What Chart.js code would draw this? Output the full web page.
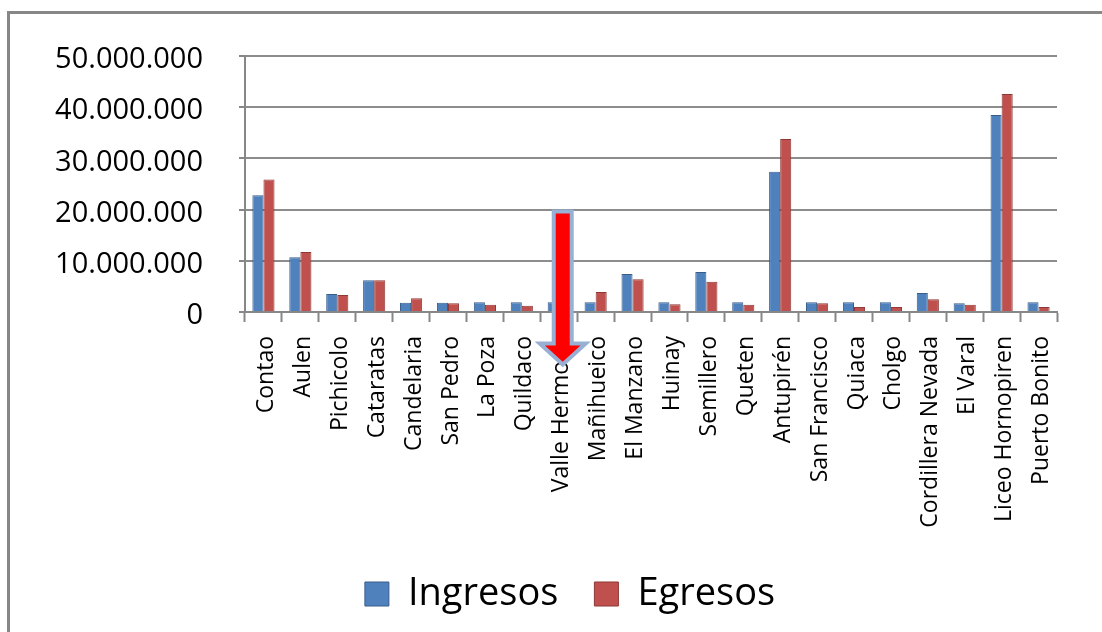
<!DOCTYPE html>
<html>
<head>
<meta charset="utf-8">
<script src="https://cdn.jsdelivr.net/npm/chart.js@4.4.0/dist/chart.umd.min.js"></script>
<style>
  html, body { margin: 0; padding: 0; background: #fff; }
  #wrap { position: relative; width: 1102px; height: 632px; overflow: hidden; }
  #frame { position: absolute; left: 7px; top: 11px; width: 1200px; height: 700px; border: 3px solid #878787; }
  #chart { position: absolute; left: 0; top: 0; }
</style>
</head>
<body>
<div id="wrap">
  <div id="frame"></div>
  <canvas id="chart" width="1102" height="623"></canvas>
</div>
<script>
const categories = [
  'Contao', 'Aulen', 'Pichicolo', 'Cataratas', 'Candelaria', 'San Pedro', 'La Poza',
  'Quildaco', 'Valle Hermoso', 'Mañihueico', 'El Manzano', 'Huinay', 'Semillero',
  'Queten', 'Antupirén', 'San Francisco', 'Quiaca', 'Cholgo', 'Cordillera Nevada',
  'El Varal', 'Liceo Hornopiren', 'Puerto Bonito'
];

const ingresos = [
  22800000, 10700000, 3500000, 6200000, 1800000, 1800000, 1900000,
  1900000, 1900000, 1900000, 7400000, 1900000, 7800000,
  1900000, 27400000, 1900000, 1900000, 1900000, 3700000,
  1700000, 38500000, 1900000
];

const egresos = [
  25900000, 11700000, 3300000, 6200000, 2700000, 1700000, 1400000,
  1200000, 1500000, 3900000, 6400000, 1500000, 5900000,
  1400000, 33800000, 1700000, 1000000, 1000000, 2500000,
  1400000, 42600000, 1000000
];

const yTicks = [0, 10000000, 20000000, 30000000, 40000000, 50000000];

// annotation arrow pointing at one category
const arrowCategory = 'Valle Hermoso';
const arrowTopValue = 20000000;

function fmt(v) {
  return String(v).replace(/\B(?=(\d{3})+(?!\d))/g, '.');
}

const arrowPlugin = {
  id: 'arrow',
  afterDraw(chart) {
    const ctx = chart.ctx;
    const x = chart.scales.x.getPixelForValue(categories.indexOf(arrowCategory)) + 4;
    const top = chart.scales.y.getPixelForValue(arrowTopValue) + 2;
    const headY = top + 132;
    const tip = top + 153;
    ctx.save();
    ctx.beginPath();
    ctx.moveTo(x - 9, top);
    ctx.lineTo(x + 9, top);
    ctx.lineTo(x + 9, headY);
    ctx.lineTo(x + 23, headY);
    ctx.lineTo(x, tip);
    ctx.lineTo(x - 23, headY);
    ctx.lineTo(x - 9, headY);
    ctx.closePath();
    ctx.fillStyle = '#ff0000';
    ctx.fill();
    ctx.lineWidth = 4;
    ctx.lineJoin = 'miter';
    ctx.strokeStyle = '#97b0d4';
    ctx.stroke();
    ctx.restore();
  }
};

new Chart(document.getElementById('chart'), {
  type: 'bar',
  data: {
    labels: categories,
    datasets: [
      {
        label: 'Ingresos',
        data: ingresos,
        backgroundColor: '#4f81bd',
        borderColor: '#385d8a',
        borderWidth: 1,
        categoryPercentage: 0.6,
        barPercentage: 1.0
      },
      {
        label: 'Egresos',
        data: egresos,
        backgroundColor: '#c0504d',
        borderColor: '#8c3836',
        borderWidth: 1,
        categoryPercentage: 0.6,
        barPercentage: 1.0
      }
    ]
  },
  options: {
    responsive: false,
    animation: false,
    layout: { padding: { left: 83, right: 45, top: 56, bottom: 0 } },
    plugins: {
      tooltip: { enabled: false },
      legend: {
        position: 'bottom',
        labels: {
          boxWidth: 24,
          boxHeight: 24,
          padding: 36,
          color: '#000',
          font: { family: 'Open Sans', size: 38 }
        }
      }
    },
    scales: {
      x: {
        afterFit(scale) { scale.height = 227; },
        border: { color: '#878787', width: 2 },
        grid: {
          offset: true,
          drawOnChartArea: false,
          drawTicks: true,
          tickLength: 10,
          tickWidth: 2,
          tickColor: '#878787'
        },
        ticks: {
          autoSkip: false,
          minRotation: 90,
          maxRotation: 90,
          padding: 14,
          labelOffset: 3,
          color: '#000',
          font: { family: 'Open Sans', size: 23 }
        }
      },
      y: {
        min: 0,
        max: 50000000,
        afterFit(scale) {
          scale.width = 162;
          // tick labels are wider than the axis box; don't clip them
          scale._computeLabelArea = () => null;
        },
        afterBuildTicks(scale) { scale.ticks = yTicks.map(v => ({ value: v })); },
        border: { color: '#878787', width: 2 },
        grid: {
          color: '#8c8c8c',
          lineWidth: 2,
          tickLength: 6,
          tickColor: '#878787'
        },
        ticks: {
          padding: 36,
          labelOffset: 4,
          color: '#000',
          font: { family: 'Open Sans', size: 29 },
          callback: v => fmt(v)
        }
      }
    }
  },
  plugins: [arrowPlugin]
});
</script>
</body>
</html>
